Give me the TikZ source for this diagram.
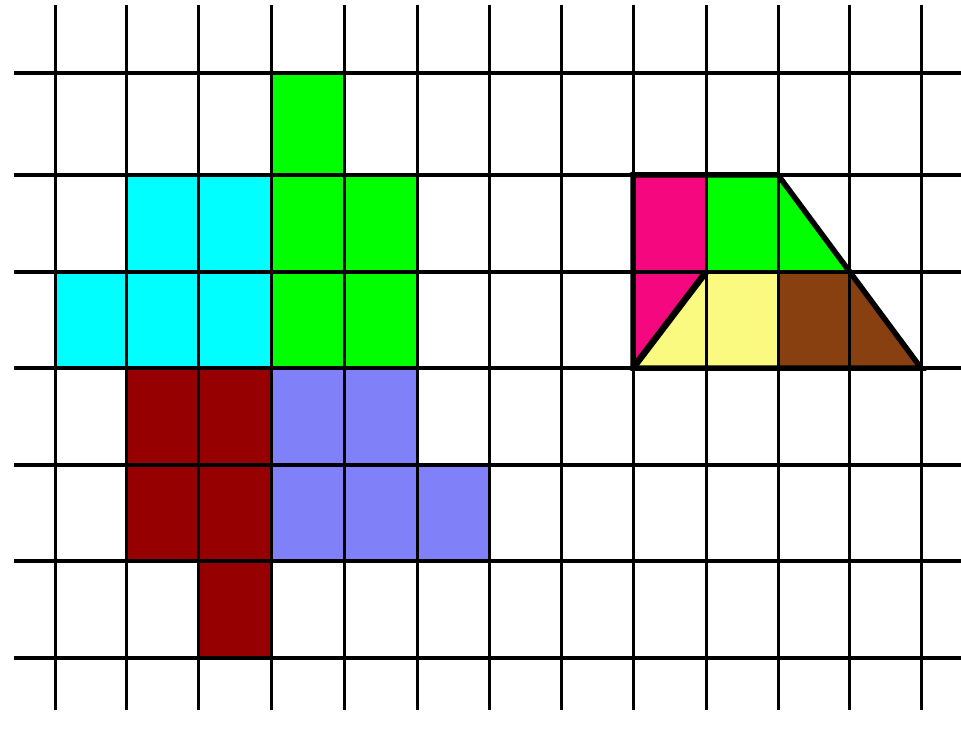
\documentclass[tikz,border=0pt]{standalone}
\definecolor{cgreen}{HTML}{00FF00}
\definecolor{ccyan}{HTML}{00FFFF}
\definecolor{cdred}{HTML}{960000}
\definecolor{cblue}{HTML}{8080F8}
\definecolor{cpink}{HTML}{F5087F}
\definecolor{cyellow}{HTML}{FAFA80}
\definecolor{cbrown}{HTML}{884010}
\tikzset{vline/.style={line width=3pt,black},
  hline/.style={line width=3.6pt,black},
  outline/.style={line width=5.5pt,black,line join=miter}}
\begin{document}
\begin{tikzpicture}[x=1pt,y=-1pt]
\useasboundingbox[fill=white] (0,0) rectangle (961,746);
% fills left figure
\fill[cgreen] (271,73) rectangle (344,175);
\fill[cgreen] (271,175) rectangle (417,368);
\fill[ccyan] (126,175) rectangle (271,272);
\fill[ccyan] (55,272) rectangle (271,368);
\fill[cdred] (126,368) rectangle (271,561);
\fill[cdred] (198,561) rectangle (271,658);
\fill[cblue] (271,368) rectangle (417,465);
\fill[cblue] (271,465) rectangle (489,561);
% fills right figure
\fill[cpink] (633,175) -- (706,175) -- (706,272) -- (633,368) -- cycle;
\fill[cgreen] (706,175) -- (778,175) -- (849,272) -- (706,272) -- cycle;
\fill[cyellow] (633,368) -- (706,272) -- (778,272) -- (778,368) -- cycle;
\fill[cbrown] (778,272) -- (849,272) -- (921,368) -- (778,368) -- cycle;
% grid
\foreach \x in {55,126,198,271,344,417,489,561,633,706,778,849,921}
  \draw[vline] (\x,5) -- (\x,710);
\foreach \y in {73,175,272,368,465,561,658}
  \draw[hline] (14,\y) -- (961,\y);
% outline
\draw[outline] (633,175) -- (778,175) -- (921,368) -- (633,368) -- cycle;
\draw[outline,line width=6.5pt] (633,368) -- (706,272);
\end{tikzpicture}
\end{document}
